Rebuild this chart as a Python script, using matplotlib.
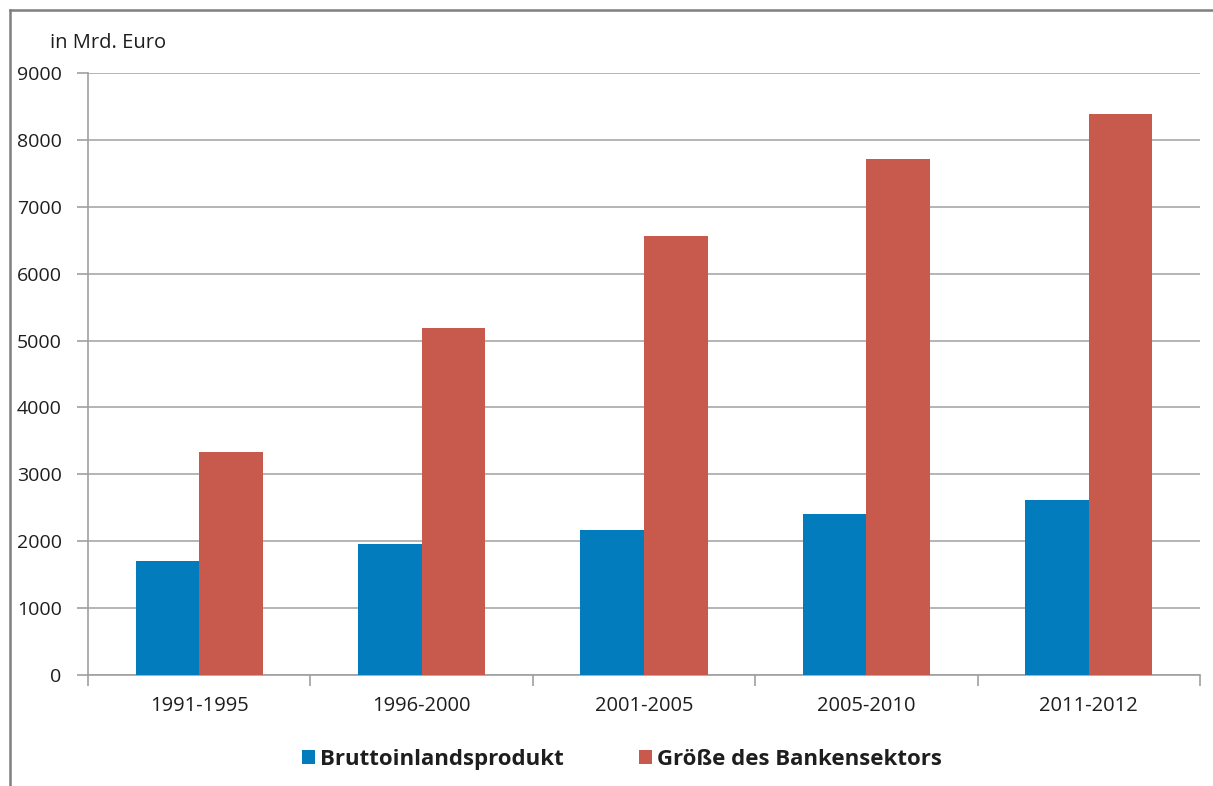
import matplotlib
matplotlib.use('Agg')
import matplotlib.pyplot as plt
import numpy as np
from matplotlib.lines import Line2D

plt.rcParams['font.family'] = ['Open Sans', 'DejaVu Sans']

# Daten (in Mrd. Euro)
perioden = ['1991-1995', '1996-2000', '2001-2005', '2005-2010', '2011-2012']
bip = [1700, 1960, 2170, 2410, 2620]
banken = [3330, 5190, 6570, 7720, 8390]
serien = ['Bruttoinlandsprodukt', 'Größe des Bankensektors']
farben = ['#027CBD', '#C75A4D']

text_farbe = '#1E1E1E'
achsen_farbe = '#A0A0A0'

fig = plt.figure(figsize=(12.13, 7.86), dpi=100)
ax = fig.add_axes([88 / 1213, 111 / 786, 1112 / 1213, 602 / 786])

x = np.arange(len(perioden))
breite = 1 / 3.5
b1 = ax.bar(x - breite / 2, bip, width=breite, color=farben[0], label=serien[0], zorder=3)
b2 = ax.bar(x + breite / 2, banken, width=breite, color=farben[1], label=serien[1], zorder=3)

ax.set_xlim(-0.5, len(perioden) - 0.5)
ax.set_ylim(0, 9000)
ax.set_yticks(np.arange(0, 9001, 1000))
ax.yaxis.grid(True, color='#A8A8A8', linewidth=1.2, zorder=0)

# Kategorien-Grenzen als Ticks, Beschriftung in der Mitte
ax.set_xticks(np.arange(-0.5, len(perioden), 1.0))
ax.set_xticklabels([])
ax.set_xticks(x, minor=True)
ax.set_xticklabels(perioden, minor=True)
ax.tick_params(axis='x', which='major', length=8, width=1.2, color=achsen_farbe)
ax.tick_params(axis='x', which='minor', length=0, pad=15, labelsize=14.5, labelcolor=text_farbe)
ax.tick_params(axis='y', length=8, width=1.2, color=achsen_farbe, pad=11,
               labelsize=14, labelcolor=text_farbe)

for s in ['top', 'right']:
    ax.spines[s].set_visible(False)
for s in ['left', 'bottom']:
    ax.spines[s].set_color(achsen_farbe)
    ax.spines[s].set_linewidth(1.2)

fig.text(50 / 1213, 1 - 43 / 786, 'in Mrd. Euro', fontsize=14.5, color=text_farbe,
         ha='left', va='center')

leg = fig.legend(handles=[b1, b2], loc='center', bbox_to_anchor=(0.513, 0.034),
                 ncol=2, frameon=False, handlelength=0.55, handleheight=0.55,
                 handletextpad=0.25, columnspacing=3.4,
                 prop={'size': 16, 'weight': 'bold'})
for t in leg.get_texts():
    t.set_color(text_farbe)

# Rahmen oben und links
fig.add_artist(Line2D([10 / 1213, 1.0], [1 - 9.5 / 786, 1 - 9.5 / 786],
                      transform=fig.transFigure, color='#7F7F7F', linewidth=1.8))
fig.add_artist(Line2D([10 / 1213, 10 / 1213], [0.0, 1 - 9.5 / 786],
                      transform=fig.transFigure, color='#7F7F7F', linewidth=1.8))

fig.savefig('out.png', dpi=100)
